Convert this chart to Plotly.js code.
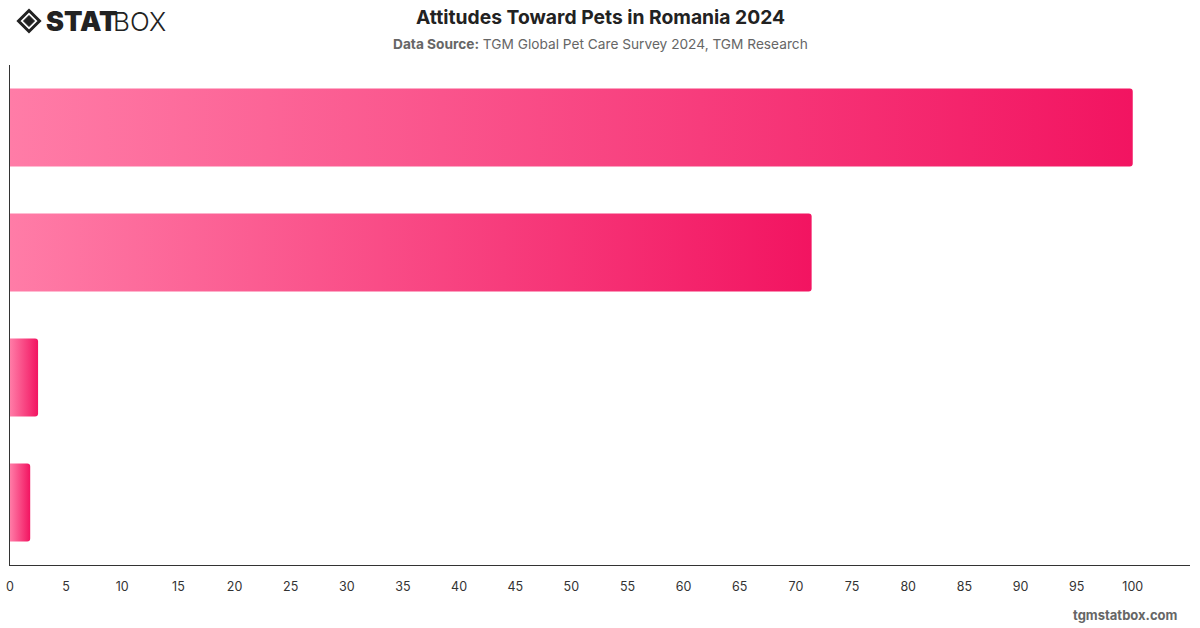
<!DOCTYPE html>
<html>
<head>
<meta charset="utf-8">
<script src="https://cdn.plot.ly/plotly-3.0.1.min.js"></script>
<style>
html,body{margin:0;padding:0;background:#fff;}
#chart{width:1200px;height:628px;}
</style>
</head>
<body>
<div id="chart"></div>
<script>
// Data (category labels are hidden in the reference chart)
const categories = [
  "Pets are part of the family",
  "Pets improve my wellbeing",
  "Pets are a burden",
  "Other"
];
const values = [100, 71.4, 2.5, 1.8];
const tickValues = [0,5,10,15,20,25,30,35,40,45,50,55,60,65,70,75,80,85,90,95,100];
const tickLabels = tickValues.map(String);

// pixel -> paper helpers for decoration (plot area: x 10..1190, y 65..565)
const PL = 10, PW = 1180, PT = 65, PH = 500;
const px = x => (x - PL) / PW;
const py = y => (PT + PH - y) / PH;

function diamondPath(cx, cy, r) {
  return `M ${px(cx)} ${py(cy - r)} L ${px(cx + r)} ${py(cy)} L ${px(cx)} ${py(cy + r)} L ${px(cx - r)} ${py(cy)} Z`;
}

const trace = {
  type: 'bar',
  orientation: 'h',
  y: categories,
  x: values,
  marker: { color: '#f5276b', cornerradius: 3, line: { width: 0 } },
  hoverinfo: 'x'
};

const layout = {
  width: 1200,
  height: 628,
  margin: { l: 10, r: 10, t: 65, b: 63 },
  paper_bgcolor: '#ffffff',
  plot_bgcolor: '#ffffff',
  bargap: 0.376,
  showlegend: false,
  font: { family: 'Inter, "Open Sans", sans-serif', color: '#333333' },
  xaxis: {
    range: [0, 105.1],
    tickvals: tickValues,
    ticktext: tickLabels,
    showgrid: false,
    zeroline: false,
    showline: true,
    linecolor: '#333333',
    linewidth: 1,
    ticks: 'outside',
    ticklen: 10,
    tickcolor: 'rgba(0,0,0,0)',
    tickfont: { size: 12.5, color: '#333333', family: 'Inter, sans-serif' },
    fixedrange: true
  },
  yaxis: {
    categoryorder: 'array',
    categoryarray: categories,
    autorange: 'reversed',
    showticklabels: false,
    showgrid: false,
    zeroline: false,
    showline: true,
    linecolor: '#333333',
    linewidth: 1,
    ticks: '',
    fixedrange: true
  },
  annotations: [
    {
      text: '<b>Attitudes Toward Pets in Romania 2024</b>',
      xref: 'paper', yref: 'paper', x: px(600), y: py(17),
      xanchor: 'center', yanchor: 'middle', showarrow: false,
      font: { size: 19.3, color: '#222222', family: 'Inter, sans-serif' }
    },
    {
      text: '<b>Data Source:</b> TGM Global Pet Care Survey 2024, TGM Research',
      xref: 'paper', yref: 'paper', x: px(600), y: py(44),
      xanchor: 'center', yanchor: 'middle', showarrow: false,
      font: { size: 13.7, color: '#666666', family: 'Inter, sans-serif' }
    },
    {
      text: '<b>tgmstatbox.com</b>',
      xref: 'paper', yref: 'paper', x: px(1180), y: py(615),
      xanchor: 'right', yanchor: 'middle', showarrow: false,
      font: { size: 13, color: '#666666', family: 'Inter, sans-serif' }
    },
    {
      text: 'STAT',
      xref: 'paper', yref: 'paper', x: px(44), y: py(22),
      xanchor: 'left', yanchor: 'middle', showarrow: false,
      font: { size: 27, color: '#222222', family: 'Inter, sans-serif', weight: 900 }
    },
    {
      text: 'BOX',
      xref: 'paper', yref: 'paper', x: px(111), y: py(22),
      xanchor: 'left', yanchor: 'middle', showarrow: false,
      font: { size: 26, color: '#222222', family: 'Inter, sans-serif', weight: 300 }
    }
  ],
  shapes: [
    { type: 'path', xref: 'paper', yref: 'paper', path: diamondPath(29, 21, 10.5),
      line: { color: '#222222', width: 3 }, fillcolor: 'rgba(0,0,0,0)' },
    { type: 'path', xref: 'paper', yref: 'paper', path: diamondPath(29, 21, 5.5),
      line: { color: '#222222', width: 1 }, fillcolor: '#222222' }
  ]
};

Plotly.newPlot('chart', [trace], layout, { displayModeBar: false, staticPlot: true }).then(gd => {
  const svg = gd.querySelector('svg.main-svg');
  const ns = 'http://www.w3.org/2000/svg';
  let defs = svg.querySelector('defs');
  if (!defs) { defs = document.createElementNS(ns, 'defs'); svg.insertBefore(defs, svg.firstChild); }
  const grad = document.createElementNS(ns, 'linearGradient');
  grad.setAttribute('id', 'pinkGrad');
  grad.setAttribute('x1', '0'); grad.setAttribute('y1', '0');
  grad.setAttribute('x2', '1'); grad.setAttribute('y2', '0');
  const s1 = document.createElementNS(ns, 'stop');
  s1.setAttribute('offset', '0'); s1.setAttribute('stop-color', '#ff7ca7');
  const s2 = document.createElementNS(ns, 'stop');
  s2.setAttribute('offset', '1'); s2.setAttribute('stop-color', '#f21461');
  grad.appendChild(s1); grad.appendChild(s2);
  defs.appendChild(grad);
  gd.querySelectorAll('.bars .point path').forEach(p => {
    p.style.fill = 'url(#pinkGrad)';
    p.style.fillOpacity = '1';
  });
});
</script>
</body>
</html>
